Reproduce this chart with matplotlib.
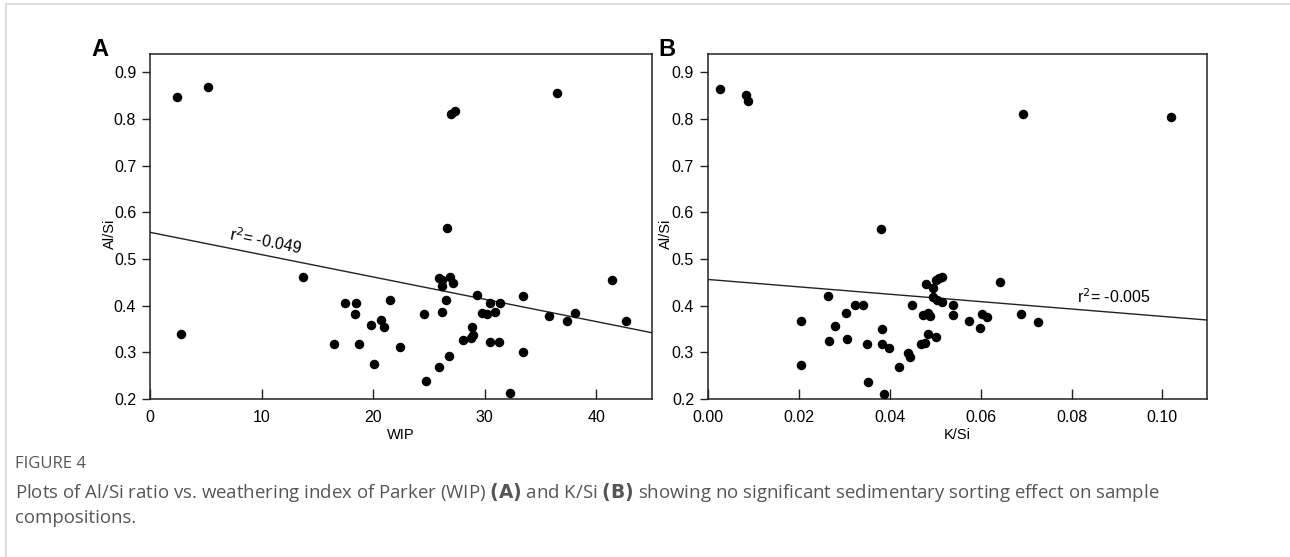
import matplotlib
matplotlib.use("Agg")
import matplotlib.pyplot as plt
from matplotlib.lines import Line2D
import numpy as np

plt.rcParams['font.family'] = ['Liberation Sans', 'DejaVu Sans']

# panel A: WIP vs Al/Si
wip = [2.4, 5.2, 2.8, 13.7, 17.5, 18.5, 18.4, 16.5, 18.7, 19.8,
       20.1, 20.7, 21.0, 21.5, 22.4, 24.6, 24.7, 25.9, 26.8, 25.9,
       26.2, 26.2, 26.9, 27.2, 26.5, 26.2, 26.6, 28.1, 28.9, 29.0,
       28.8, 29.3, 29.8, 30.2, 30.5, 30.9, 31.4, 30.5, 31.3, 32.3,
       33.4, 33.4, 35.8, 37.4, 38.1, 41.4, 42.7, 27.0, 27.3, 36.5]
alsi_a = [0.846, 0.869, 0.339, 0.462, 0.405, 0.405, 0.382, 0.318, 0.318, 0.359,
          0.275, 0.369, 0.354, 0.411, 0.312, 0.382, 0.239, 0.269, 0.291, 0.459,
          0.454, 0.441, 0.461, 0.449, 0.413, 0.387, 0.567, 0.326, 0.355, 0.337,
          0.330, 0.423, 0.385, 0.382, 0.405, 0.387, 0.405, 0.321, 0.321, 0.212,
          0.421, 0.300, 0.378, 0.368, 0.384, 0.455, 0.367, 0.811, 0.817, 0.856]
fit_a = (0.557, -0.00478)   # intercept, slope
r2_a = "-0.049"

# panel B: K/Si vs Al/Si
ksi = [0.0026, 0.0084, 0.0089, 0.0381, 0.0694, 0.1018, 0.0205, 0.0205, 0.0264, 0.0267,
       0.0279, 0.0304, 0.0307, 0.0324, 0.0342, 0.0349, 0.0352, 0.0383, 0.0382, 0.0388,
       0.0398, 0.0421, 0.0440, 0.0445, 0.0448, 0.0480, 0.0495, 0.0502, 0.0509, 0.0516,
       0.0495, 0.0505, 0.0515, 0.0473, 0.0484, 0.0489, 0.0485, 0.0502, 0.0469, 0.0478,
       0.0540, 0.0540, 0.0575, 0.0599, 0.0604, 0.0614, 0.0643, 0.0689, 0.0727]
alsi_b = [0.864, 0.851, 0.839, 0.564, 0.811, 0.805, 0.368, 0.273, 0.421, 0.325,
          0.356, 0.385, 0.329, 0.402, 0.402, 0.317, 0.237, 0.350, 0.317, 0.211,
          0.310, 0.268, 0.298, 0.289, 0.401, 0.446, 0.437, 0.455, 0.459, 0.461,
          0.419, 0.413, 0.407, 0.380, 0.385, 0.378, 0.339, 0.333, 0.318, 0.319,
          0.401, 0.380, 0.366, 0.353, 0.382, 0.376, 0.451, 0.382, 0.364]
fit_b = (0.456, -0.791)
r2_b = "-0.005"

yticks = [0.2, 0.3, 0.4, 0.5, 0.6, 0.7, 0.8, 0.9]

fig = plt.figure(figsize=(12.9, 5.57), dpi=100)
axA = fig.add_axes([0.1163, 0.2837, 0.3891, 0.6194])
axB = fig.add_axes([0.5488, 0.2837, 0.3868, 0.6194])


def style(ax, xlim, xticks, xfmt, xlabel, ylab_x):
    ax.set_xlim(*xlim)
    ax.set_ylim(0.2, 0.939)
    ax.set_xticks(xticks)
    ax.set_xticklabels([xfmt % v for v in xticks])
    ax.set_yticks(yticks)
    ax.set_yticklabels(["%.1f" % v for v in yticks])
    ax.tick_params(axis='x', direction='in', length=7, width=1, color='#222222',
                   labelsize=11.5, pad=8)
    ax.tick_params(axis='y', direction='out', length=6, width=1, color='#222222',
                   labelsize=11.5, pad=4)
    for s in ax.spines.values():
        s.set_color('#222222')
        s.set_linewidth(1.1)
    ax.set_xlabel(xlabel, fontsize=10.5, labelpad=2)
    ax.set_ylabel("Al/Si", fontsize=10.5)
    ax.yaxis.set_label_coords(ylab_x, 0.478)


style(axA, (0, 45), [0, 10, 20, 30, 40], "%d", "WIP", -0.066)
style(axB, (0, 0.1098), [0.0, 0.02, 0.04, 0.06, 0.08, 0.10], "%.2f", "K/Si", -0.071)

axA.scatter(wip, alsi_a, s=34, color='black', zorder=3)
xa = np.array([0, 45])
axA.plot(xa, fit_a[0] + fit_a[1] * xa, color='#222222', lw=1)
axA.text(7.0, 0.541, "r$^2$= " + r2_a, fontsize=11.5, rotation=-11.3,
         rotation_mode='anchor', ha='left', va='baseline')

axB.scatter(ksi, alsi_b, s=34, color='black', zorder=3)
xb = np.array([0, 0.1098])
axB.plot(xb, fit_b[0] + fit_b[1] * xb, color='#222222', lw=1)
axB.text(0.0812, 0.405, "r$^2$= " + r2_b, fontsize=11.5, ha='left', va='baseline')

fig.text(0.0775, 0.911, "A", fontsize=17, fontweight='bold', ha='center', va='center')
fig.text(0.517, 0.911, "B", fontsize=17, fontweight='bold', ha='center', va='center')

# page frame
fig.add_artist(Line2D([0.0047, 1.0], [0.992, 0.992], color='#d6d6d6', lw=1.2))
fig.add_artist(Line2D([0.0047, 0.0047], [0.0, 0.992], color='#d6d6d6', lw=1.2))

cap = ['Open Sans', 'DejaVu Sans']
fig.text(0.0118, 0.167, "FIGURE 4", fontsize=12, color='#555555', family=cap,
         ha='left', va='center')
fig.text(0.0118, 0.116,
         "Plots of Al/Si ratio vs. weathering index of Parker (WIP) $\\bf{(A)}$ and K/Si "
         "$\\bf{(B)}$ showing no significant sedimentary sorting effect on sample",
         fontsize=13.4, color='#555555', family=cap, ha='left', va='center')
fig.text(0.0118, 0.070, "compositions.", fontsize=13.4, color='#555555', family=cap,
         ha='left', va='center')

fig.savefig("out.png", dpi=100)
